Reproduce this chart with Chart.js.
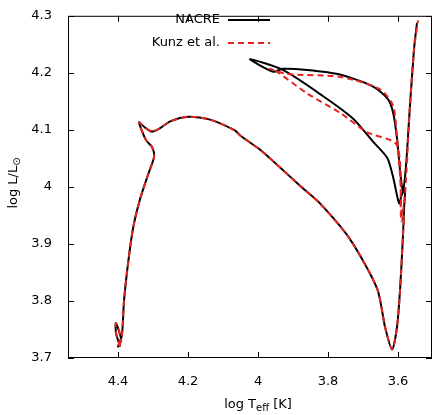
<!DOCTYPE html>
<html><head><meta charset="utf-8">
<script src="https://cdn.jsdelivr.net/npm/chart.js@4"></script>
<style>html,body{margin:0;padding:0;background:#fff}#w{width:436px;height:415px}</style>
</head><body><div id="w"><canvas id="c"></canvas></div>
<script>
const nacreT=[4.394,4.406,4.406,4.391,4.400,4.389,4.383,4.371,4.357,4.337,4.314,4.297,4.303,4.320,4.340,4.323,4.303,4.280,4.251,4.200,4.137,4.066,4.051,3.994,3.937,3.880,3.823,3.737,3.660,3.637,3.617,3.603,3.594,3.586,3.583,3.580,3.590,3.597,3.614,3.631,3.671,3.729,3.814,3.929,4.023,3.957,3.929,3.860,3.766,3.671,3.629,3.614,3.603,3.594,3.586,3.577,3.566,3.554,3.546];
const nacreL=[3.720,3.744,3.761,3.732,3.720,3.740,3.800,3.868,3.928,3.979,4.022,4.053,4.070,4.082,4.113,4.104,4.097,4.103,4.115,4.123,4.118,4.099,4.090,4.065,4.034,4.002,3.971,3.908,3.822,3.754,3.715,3.754,3.822,3.914,3.960,3.997,3.985,3.971,4.017,4.051,4.079,4.120,4.159,4.205,4.224,4.202,4.207,4.205,4.197,4.176,4.154,4.130,4.085,4.027,3.993,4.039,4.142,4.244,4.287];
const kunzT=[4.394,4.406,4.406,4.391,4.400,4.389,4.383,4.371,4.357,4.337,4.314,4.297,4.303,4.320,4.340,4.323,4.303,4.280,4.251,4.200,4.137,4.066,4.051,3.994,3.937,3.880,3.823,3.737,3.660,3.637,3.617,3.603,3.594,3.586,3.583,3.591,3.603,3.689,3.766,3.860,3.946,3.966,3.917,3.766,3.651,3.614,3.603,3.594,3.589,3.580,3.566,3.554,3.543];
const kunzL=[3.720,3.744,3.761,3.732,3.720,3.740,3.800,3.868,3.928,3.979,4.022,4.053,4.070,4.082,4.113,4.104,4.097,4.103,4.115,4.123,4.118,4.099,4.090,4.065,4.034,4.002,3.971,3.908,3.822,3.754,3.715,3.754,3.822,3.914,3.950,3.940,4.073,4.096,4.130,4.164,4.202,4.207,4.198,4.193,4.171,4.142,4.085,4.017,3.949,3.988,4.142,4.244,4.292];
const xTicks=[4.4,4.2,4.0,3.8,3.6];
const yTicks=[3.7,3.8,3.9,4.0,4.1,4.2,4.3];
const labels=["NACRE","Kunz et al."];
const F="'DejaVu Sans', sans-serif";
const pts=(a,b)=>a.map((v,i)=>({x:v,y:b[i]}));
const deco={id:'deco',afterDraw(ch){
 const c=ch.ctx,a=ch.chartArea,xs=ch.scales.x,ys=ch.scales.y;
 c.save();c.strokeStyle='#000';c.lineWidth=1;
 c.strokeRect(a.left+0.5,a.top+0.5,a.right-a.left-1,a.bottom-a.top-1);
 c.beginPath();
 xTicks.forEach(t=>{const p=Math.round(xs.getPixelForValue(t))+0.5;c.moveTo(p,a.bottom);c.lineTo(p,a.bottom-6);c.moveTo(p,a.top);c.lineTo(p,a.top+6);});
 yTicks.forEach(t=>{const p=Math.round(ys.getPixelForValue(t))+0.5;c.moveTo(a.left,p);c.lineTo(a.left+6,p);c.moveTo(a.right,p);c.lineTo(a.right-6,p);});
 c.stroke();
 c.fillStyle='#000';c.font='13px '+F;c.textBaseline='middle';c.textAlign='right';
 c.fillText(labels[0],220,20);c.fillText(labels[1],220,43);
 c.lineWidth=2;c.beginPath();c.moveTo(228,20);c.lineTo(270,20);c.stroke();
 c.strokeStyle='#e8231f';c.setLineDash([6,4]);c.beginPath();c.moveTo(228,43);c.lineTo(270,43);c.stroke();c.setLineDash([]);
 // x title
 c.textAlign='left';c.textBaseline='alphabetic';
 const t1='log T',t2='eff',t3=' [K]';
 c.font='13px '+F;const w1=c.measureText(t1).width,w3=c.measureText(t3).width;
 c.font='10px '+F;const w2=c.measureText(t2).width;
 let x0=258-(w1+w2+w3)/2,yb=408;
 c.font='13px '+F;c.fillText(t1,x0,yb);
 c.font='10px '+F;c.fillText(t2,x0+w1,yb+3);
 c.font='13px '+F;c.fillText(t3,x0+w1+w2,yb);
 // y title
 c.translate(17,183);c.rotate(-Math.PI/2);
 const s1='log L/L',s2='⊙';
 c.font='13px '+F;const v1=c.measureText(s1).width;c.font='10px '+F;const v2=c.measureText(s2).width;
 let y0=-(v1+v2)/2;
 c.font='13px '+F;c.fillText(s1,y0,0);c.font='10px '+F;c.fillText(s2,y0+v1,3);
 c.restore();
}};
new Chart(document.getElementById('c'),{type:'scatter',
 data:{datasets:[
  {label:labels[0],data:pts(nacreT,nacreL),showLine:true,borderColor:'#000',borderWidth:2,pointRadius:0,tension:0.25,order:2},
  {label:labels[1],data:pts(kunzT,kunzL),showLine:true,borderColor:'#e8231f',borderWidth:2,borderDash:[6,4],pointRadius:0,tension:0.25,order:1}
 ]},
 options:{responsive:true,maintainAspectRatio:false,animation:false,
  layout:{padding:{top:8,right:4,left:0,bottom:0}},
  plugins:{legend:{display:false},tooltip:{enabled:false}},
  scales:{
   x:{type:'linear',reverse:true,min:3.503,max:4.543,afterFit(s){s.height=57;},
      afterBuildTicks(s){s.ticks=xTicks.map(v=>({value:v}));},
      grid:{display:false},border:{display:false},
      ticks:{color:'#000',font:{family:F,size:13},padding:8,maxRotation:0,callback:v=>String(+v.toFixed(1))}},
   y:{type:'linear',min:3.7,max:4.3,afterFit(s){s.width=68;},
      afterBuildTicks(s){s.ticks=yTicks.map(v=>({value:v}));},
      grid:{display:false},border:{display:false},
      ticks:{color:'#000',font:{family:F,size:13},padding:8,callback:v=>String(+v.toFixed(1))}}
  }},plugins:[deco]});
</script></body></html>
